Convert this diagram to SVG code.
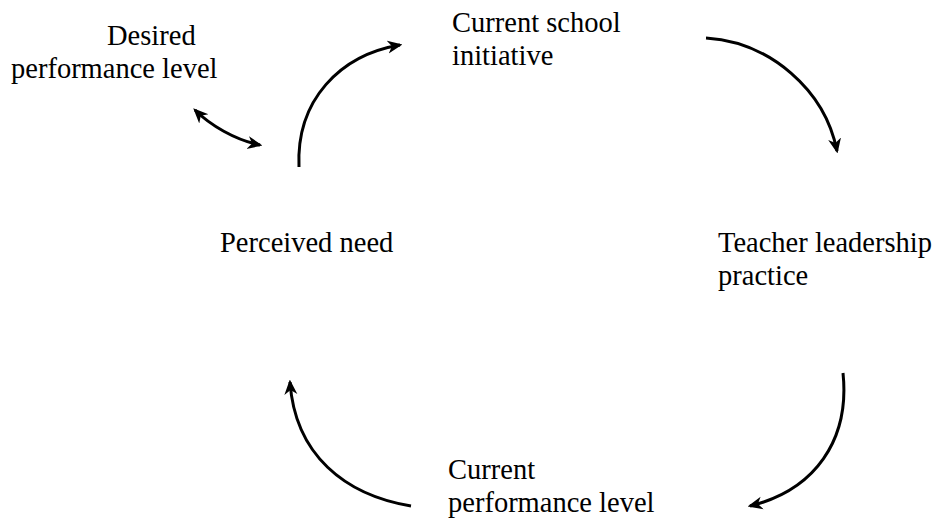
<svg xmlns="http://www.w3.org/2000/svg" width="942" height="520" viewBox="0 0 942 520">
<style>
text{font-family:"Liberation Serif","Times New Roman",serif;font-size:28.5px;fill:#000}
.c{fill:none;stroke:#000;stroke-width:3}
</style>
<defs>
<marker id="ah" viewBox="0 0 12 12" refX="10" refY="6" markerWidth="15" markerHeight="15" markerUnits="userSpaceOnUse" orient="auto-start-reverse">
<path d="M0,0.8 L12,6 L0,11.2 L3.5,6 Z" fill="#000"/>
</marker>
</defs>
<rect width="942" height="520" fill="#fff"/>
<g id="desired"><text x="107" y="45">Desired</text><text x="11" y="78">performance level</text></g>
<g id="initiative"><text x="452" y="32">Current school</text><text x="452" y="65">initiative</text></g>
<g id="need"><text x="220" y="252">Perceived need</text></g>
<g id="teacher"><text x="718" y="252">Teacher leadership</text><text x="718" y="285">practice</text></g>
<g id="current"><text x="448" y="479">Current</text><text x="448" y="512">performance level</text></g>
<g id="connectors">
<path class="c" d="M299,167 C296,100 340,55 400,45" marker-end="url(#ah)"/>
<path class="c" d="M706,38 C770,42 825,90 837,151" marker-end="url(#ah)"/>
<path class="c" d="M843,373 C850,440 815,490 750,506" marker-end="url(#ah)"/>
<path class="c" d="M411,506 C345,495 295,455 290,382" marker-end="url(#ah)"/>
<path class="c" d="M195,110 C210,125 235,140 260,145" marker-start="url(#ah)" marker-end="url(#ah)"/>
</g>
</svg>
